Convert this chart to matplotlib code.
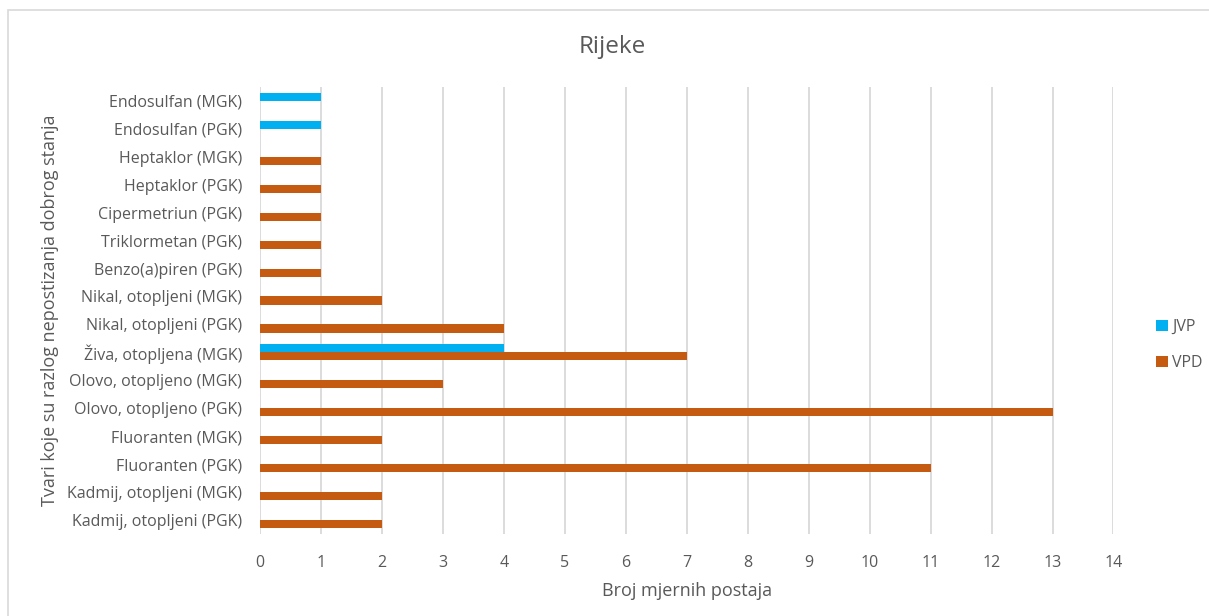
import numpy as np
import matplotlib
matplotlib.use('Agg')
import matplotlib.pyplot as plt
from matplotlib.patches import Rectangle

plt.rcParams['font.family'] = ['Open Sans', 'DejaVu Sans']

# kategorije (odozdo prema gore)
tvari = [
    'Kadmij, otopljeni (PGK)',
    'Kadmij, otopljeni (MGK)',
    'Fluoranten (PGK)',
    'Fluoranten (MGK)',
    'Olovo, otopljeno (PGK)',
    'Olovo, otopljeno (MGK)',
    'Živa, otopljena (MGK)',
    'Nikal, otopljeni (PGK)',
    'Nikal, otopljeni (MGK)',
    'Benzo(a)piren (PGK)',
    'Triklormetan (PGK)',
    'Cipermetriun (PGK)',
    'Heptaklor (PGK)',
    'Heptaklor (MGK)',
    'Endosulfan (PGK)',
    'Endosulfan (MGK)',
]
jvp = [0, 0, 0, 0, 0, 0, 4, 0, 0, 0, 0, 0, 0, 0, 1, 1]
vpd = [2, 2, 11, 2, 13, 3, 7, 4, 2, 1, 1, 1, 1, 1, 0, 0]
x_ticks = list(range(0, 15))

siva = '#595959'

fig = plt.figure(figsize=(12.09, 6.16), dpi=100)
ax = fig.add_axes([0.215, 0.133, 0.706, 0.726])

y_pos = np.arange(len(tvari))
h = 0.29
ax.barh(y_pos + h / 2, jvp, h, color='#00B0F0', label='JVP', zorder=3)
ax.barh(y_pos - h / 2, vpd, h, color='#C55A11', label='VPD', zorder=3)

ax.set_xlim(0, 14)
ax.set_ylim(-0.5, len(tvari) - 0.5)
ax.set_xticks(x_ticks)
ax.set_yticks(y_pos)
ax.set_yticklabels(tvari)
ax.tick_params(length=0, labelsize=11.5, colors=siva)
ax.tick_params(axis='x', pad=15)
ax.tick_params(axis='y', pad=13)
ax.grid(axis='x', color='#D9D9D9', linewidth=1.3, zorder=0)
for s in ax.spines.values():
    s.set_visible(False)

fig.text(612 / 1209, 1 - 47 / 616, 'Rijeke', fontsize=17.5, color=siva,
         ha='center', va='center')
ax.set_xlabel('Broj mjernih postaja', fontsize=13, color=siva, labelpad=8)
ax.set_ylabel('Tvari koje su razlog nepostizanja dobrog stanja', fontsize=13,
              color=siva, labelpad=6)

leg = ax.legend(loc='center left', bbox_to_anchor=(1142 / 1209, 1 - 345 / 616),
                bbox_transform=fig.transFigure, frameon=False,
                handlelength=0.7, handleheight=0.7, labelspacing=1.25,
                fontsize=11.5, handletextpad=0.3)
for t in leg.get_texts():
    t.set_color(siva)

# okvir grafikona
fig.patches.append(Rectangle((8 / 1209, -0.1), 1.2, 1 - 10 / 616 + 0.1,
                             transform=fig.transFigure, fill=False,
                             edgecolor='#D9D9D9', linewidth=1.2))

fig.savefig('out.png', dpi=100)
